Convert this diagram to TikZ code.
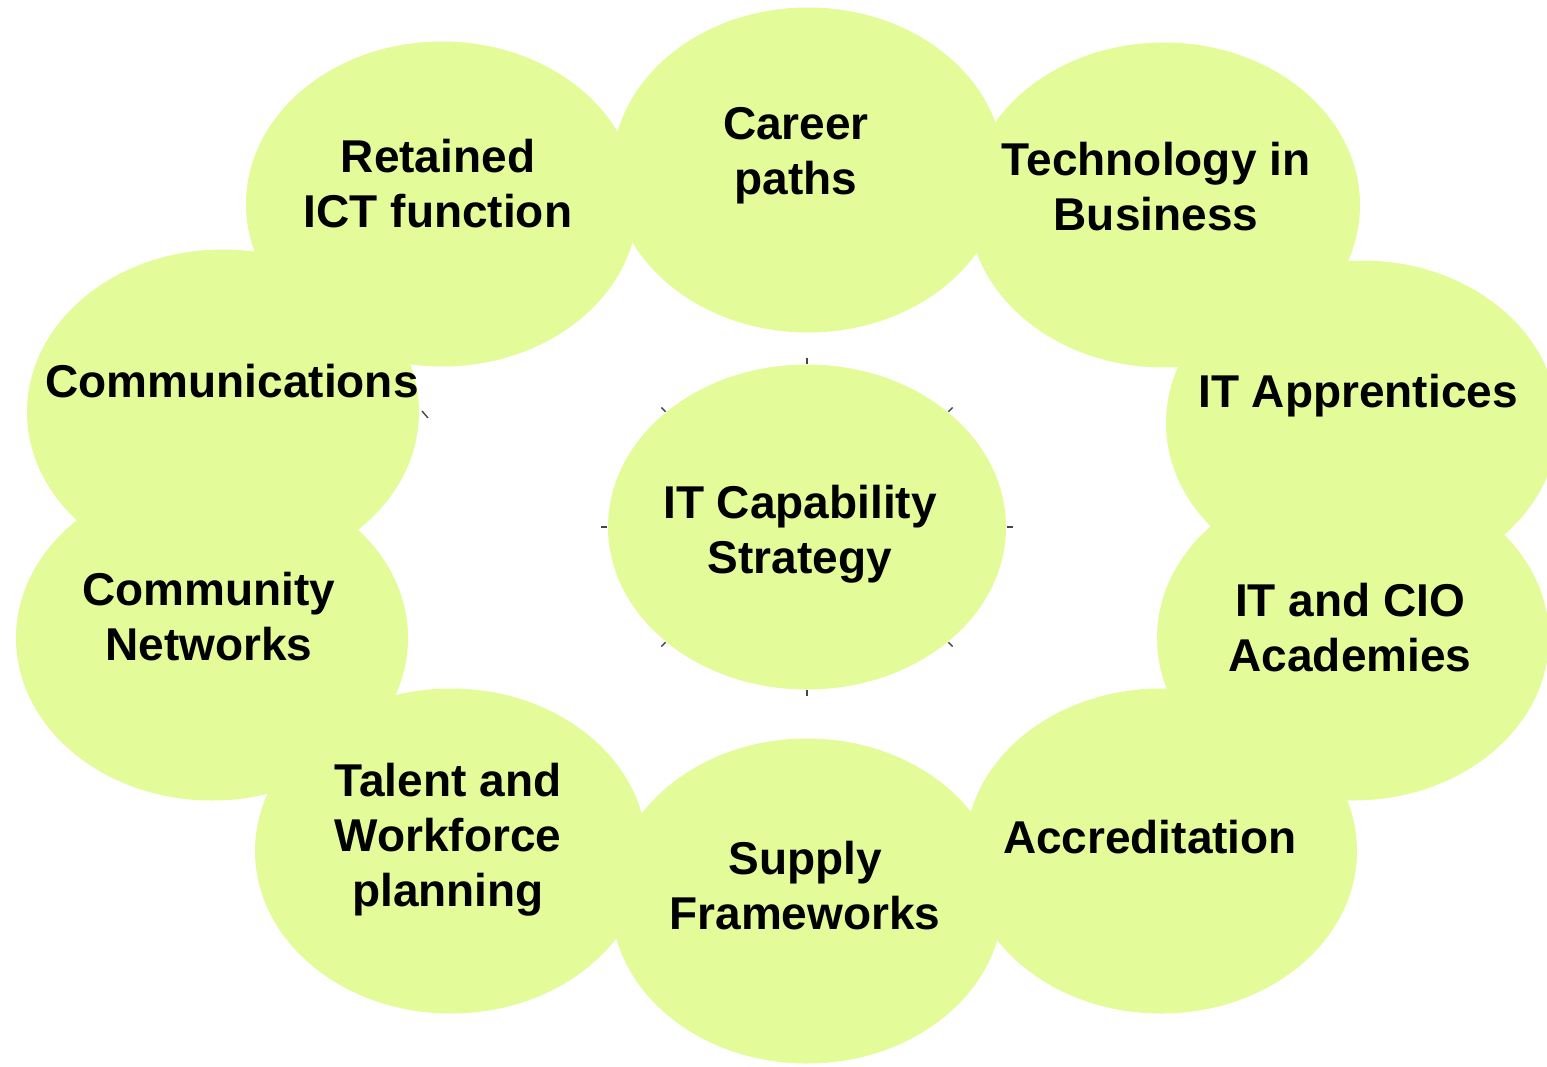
\documentclass[tikz,border=0pt]{standalone}
\usepackage{fontspec}
\setmainfont{Liberation Sans}
\usetikzlibrary{shapes.geometric}
\definecolor{myGreen}{RGB}{227,251,153}
\definecolor{myTick}{RGB}{70,70,70}

\begin{document}
\begin{tikzpicture}[%
    x=0.5pt, y=-0.5pt,
    every node/.style={
        font=\fontsize{23}{27.5}\selectfont\bfseries,
        align=center,
    },
    bubble/.style={
        ellipse, fill=myGreen, inner sep=0pt,
        minimum width=196pt, minimum height=162.5pt,
    },
    tick/.style={myTick, line width=0.7pt},
]
\useasboundingbox (0,0) rectangle (1547,1066);

% place ellipses
\node[bubble] (career) at (808,170) {};
\node[bubble] (tech) at (1164,205) {};
\node[bubble] (apprentices) at (1362,423) {};
\node[bubble] (academies) at (1353,638) {};
\node[bubble] (accred) at (1161,851) {};
\node[bubble] (supply) at (807,901) {};
\node[bubble] (talent) at (451,851) {};
\node[bubble] (community) at (212,638) {};
\node[bubble] (comms) at (223,412) {};
\node[bubble] (retained) at (442,204) {};
\node[bubble, minimum width=199pt] (strategy) at (807,527) {};

% place labels
\node at (796,156) {Career\\paths};
\node at (1156,187) {Technology in\\Business};
\node at (1358,396) {IT Apprentices};
\node at (1350,628) {IT and CIO\\Academies};
\node at (1150,837) {Accreditation};
\node at (805,886) {Supply\\Frameworks};
\node at (448,840) {Talent and\\Workforce\\planning};
\node at (209,617) {Community\\Networks};
\node at (232,381) {Communications};
\node at (438,184) {Retained\\ICT function};
\node at (800,534) {IT Capability\\Strategy};

% draw small ticks
\foreach \a in {0,45,...,315} {
    \draw[tick] ([shift={(\a:200 and 163)}]strategy.center) -- ([shift={(\a:206 and 169)}]strategy.center);
}
\draw[tick] ([shift={(199,-1)}]comms.center) -- ++(6,7);

\end{tikzpicture}
\end{document}
